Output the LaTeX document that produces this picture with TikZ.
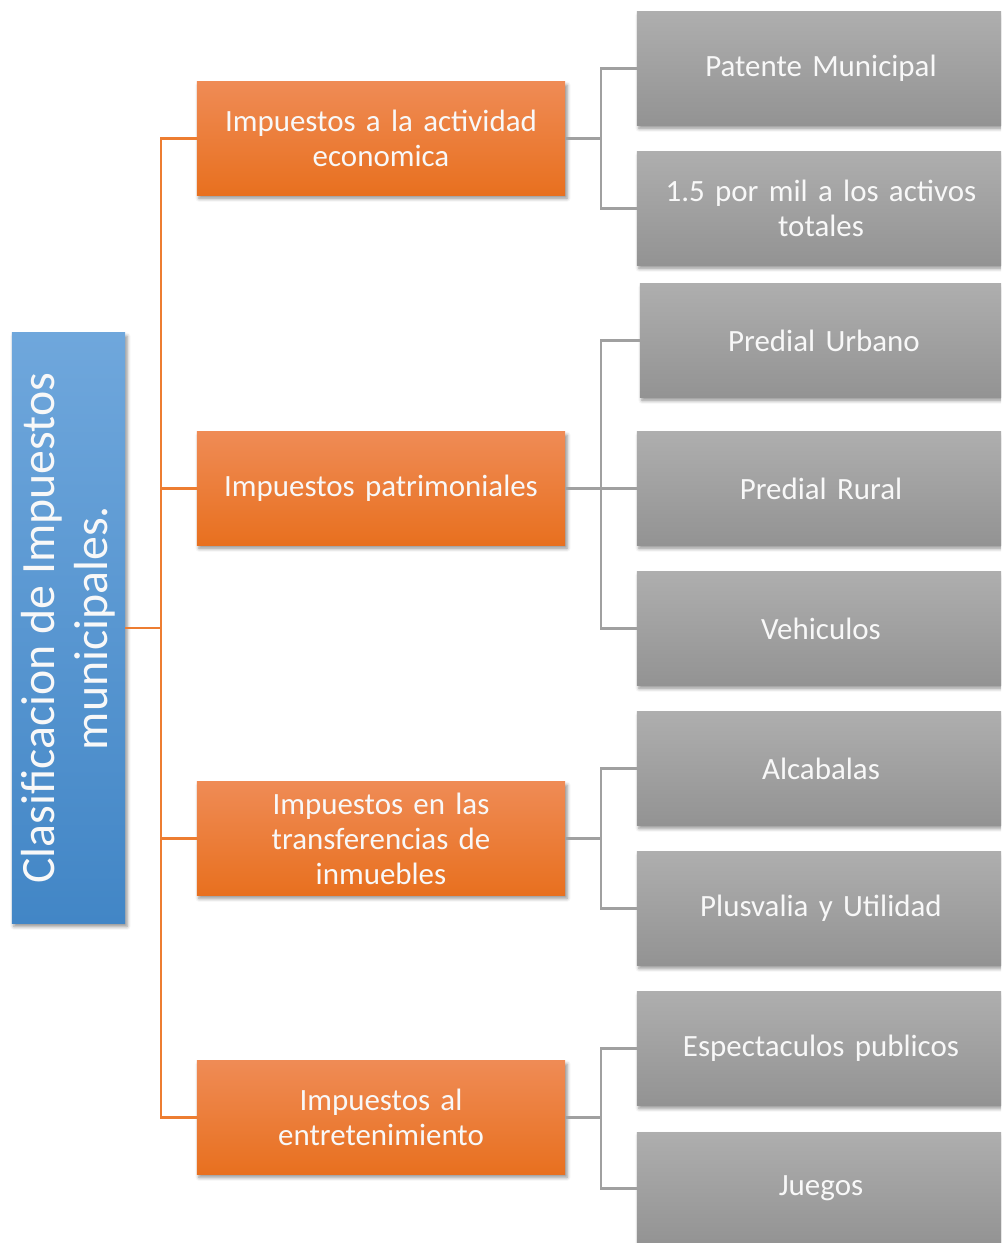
\documentclass[tikz,border=0pt]{standalone}
\usepackage{fontspec}
\setmainfont{Carlito}
\usetikzlibrary{shadows.blur}

\definecolor{azulA}{HTML}{6FA7DC}
\definecolor{azulM}{HTML}{5698D8}
\definecolor{azulB}{HTML}{4286C6}
\definecolor{naranjaA}{HTML}{EF8B55}
\definecolor{naranjaM}{HTML}{F37B2F}
\definecolor{naranjaB}{HTML}{E8701F}
\definecolor{grisA}{HTML}{AEAEAE}
\definecolor{grisM}{HTML}{A2A2A2}
\definecolor{grisB}{HTML}{939393}
\definecolor{lineaN}{HTML}{ED7D31}
\definecolor{lineaG}{HTML}{A0A0A0}
\definecolor{blanco}{HTML}{F8F8F8}

\begin{document}
\begin{tikzpicture}[x=0.025cm,y=-0.025cm,
sombra/.style={blur shadow={shadow xshift=0.5mm,shadow yshift=-0.8mm,shadow blur radius=0.9mm,shadow opacity=45}},
raiz/.style={sombra,top color=azulA,middle color=azulM,bottom color=azulB,minimum width=28.25mm,minimum height=147.5mm,inner sep=0pt},
grupo/.style={sombra,top color=naranjaA,middle color=naranjaM,bottom color=naranjaB,minimum width=92mm,minimum height=28.25mm,text width=88mm,align=center,text=blanco,font=\fontsize{22}{24.9}\selectfont,inner sep=0pt},
hoja/.style={grupo,top color=grisA,middle color=grisM,bottom color=grisB},
rama/.style={draw=lineaN,line width=1.6pt},
ramagris/.style={draw=lineaG,line width=1.6pt}]
\useasboundingbox (0,0) rectangle (1001,1243);
\clip (0,0) rectangle (1001,1243);
\node[raiz] (raiz) at (68.5,628) {};
\node[rotate=90,align=center,text=blanco,font=\fontsize{34}{37.7}\selectfont] (raiztxt) at (raiz.center) {Clasificacion de Impuestos\\municipales.};
% tipos de impuesto
\node[grupo] (act) at (381,138.5) {Impuestos a la actividad\\economica};
\node[grupo] (pat) at (381,488.5) {Impuestos patrimoniales};
\node[grupo] (tra) at (381,838.5) {Impuestos en las\\transferencias de\\inmuebles};
\node[grupo] (ent) at (381,1117.5) {Impuestos al\\entretenimiento};
% impuestos concretos
\node[hoja] (pm) at (821,68.5) {Patente Municipal};
\node[hoja] (mil) at (821,208.5) {1.5 por mil a los activos\\totales};
\node[hoja] (pu) at (824,340.5) {Predial Urbano};
\node[hoja] (pr) at (821,488.5) {Predial Rural};
\node[hoja] (veh) at (821,628.5) {Vehiculos};
\node[hoja] (alc) at (821,768.5) {Alcabalas};
\node[hoja] (plu) at (821,908.5) {Plusvalia y Utilidad};
\node[hoja] (esp) at (821,1048.5) {Espectaculos publicos};
\node[hoja] (jue) at (821,1188.5) {Juegos};
\foreach \g in {act,pat,tra,ent}
  \draw[rama] (raiz.east) -- ++(36,0) |- (\g.west);
\foreach \g/\h in {act/pm,act/mil,pat/pu,pat/pr,pat/veh,tra/alc,tra/plu,ent/esp,ent/jue}
  \draw[ramagris] (\g.east) -- ++(36,0) |- (\h.west);
\end{tikzpicture}
\end{document}
